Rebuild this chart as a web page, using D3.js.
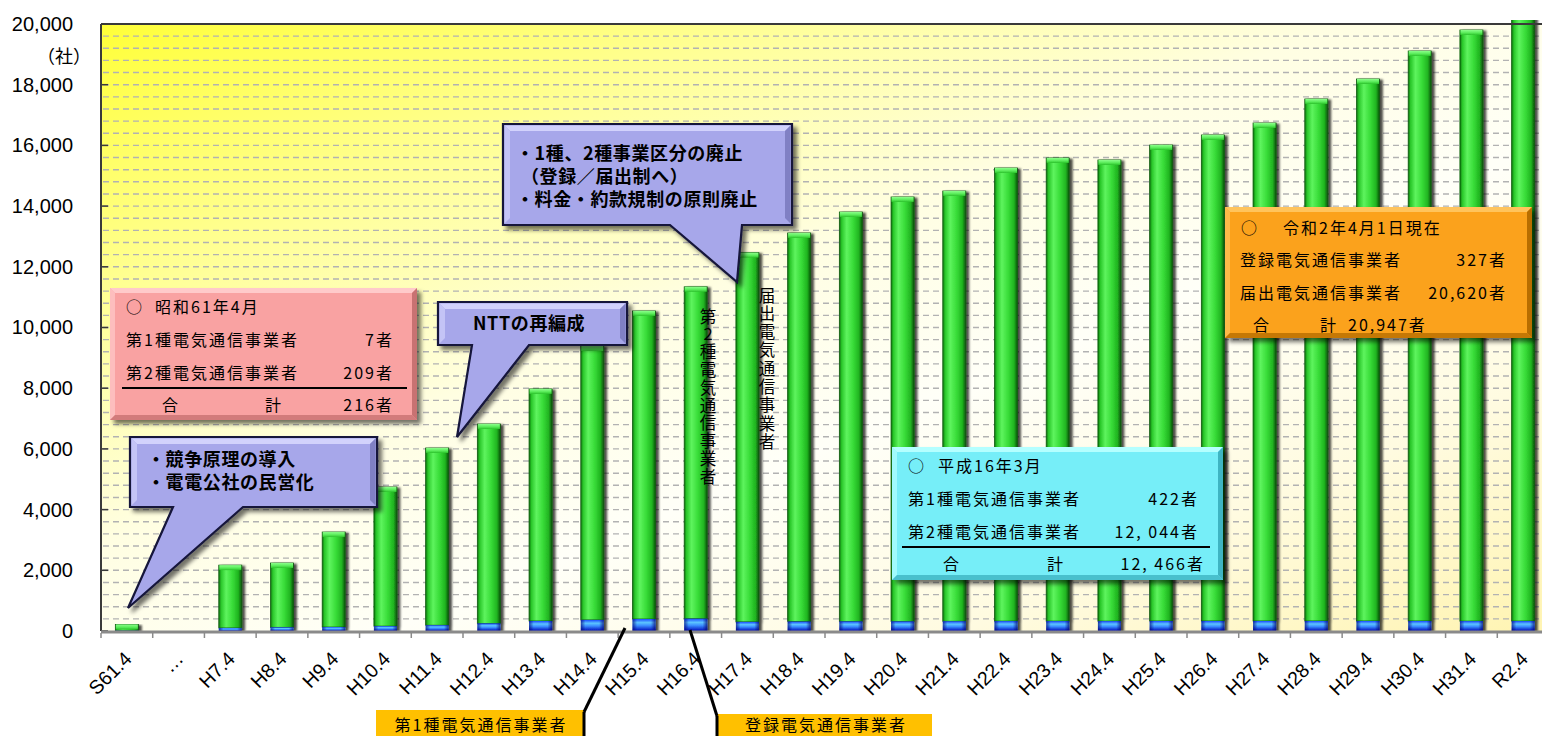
<!DOCTYPE html>
<html><head><meta charset="utf-8">
<script src="https://cdn.jsdelivr.net/npm/d3@7"></script>
<style>
html,body{margin:0;padding:0;background:#fff;}
svg{display:block;}
.vert{writing-mode:vertical-rl;text-orientation:upright;}
</style></head>
<body>
<svg id="chart" width="1542" height="736"></svg>
<script>
// 電気通信事業者数の推移
const categories = ["S61.4","…","H7.4","H8.4","H9.4","H10.4","H11.4","H12.4","H13.4","H14.4","H15.4","H16.4","H17.4","H18.4","H19.4","H20.4","H21.4","H22.4","H23.4","H24.4","H25.4","H26.4","H27.4","H28.4","H29.4","H30.4","H31.4","R2.4"];
// 第1種電気通信事業者（H17.4以降は登録電気通信事業者）
const class1 = [7,null,100,120,130,160,190,250,330,365,395,405,300,310,315,315,320,325,325,325,330,330,330,330,330,330,325,327];
// 第2種電気通信事業者（H17.4以降は届出電気通信事業者）
const class2 = [209,null,2070,2120,3130,4585,5840,6570,7645,9025,10150,10935,12166,12804,13490,13985,14177,14930,15260,15195,15683,16013,16408,17199,17858,18780,19477,20620];
const yTicks = [0,2000,4000,6000,8000,10000,12000,14000,16000,18000,20000];

const JP = "'Noto Sans CJK JP','Noto Sans CJK SC',sans-serif";
const LAT = "'Liberation Sans',Arial,sans-serif";

const svg = d3.select("#chart");
const plot = {left:101, top:24, bottom:631, right:1542};

const x = d3.scaleBand().domain(categories).range([101,1549]).paddingInner(0.555).paddingOuter(0.2775);
const y = d3.scaleLinear().domain([0,20000]).range([plot.bottom, plot.top]);

// ---- defs ----
const defs = svg.append("defs");
function lin(id, x1,y1,x2,y2, stops){
  const g = defs.append("linearGradient").attr("id",id)
    .attr("x1",x1).attr("y1",y1).attr("x2",x2).attr("y2",y2);
  stops.forEach(s=>g.append("stop").attr("offset",s[0]).attr("stop-color",s[1]).attr("stop-opacity", s[2]==null?1:s[2]));
}
lin("bg",0,0,1,1,[[0,"#ffff38"],[0.24,"#ffff9a"],[0.43,"#fffee2"],[0.6,"#fffff8"],[0.8,"#fffbe0"],[1,"#fff4b2"]]);
lin("gGreen",0,0,1,0,[[0,"#0e6e0e"],[0.1,"#29c629"],[0.32,"#5ef45e"],[0.6,"#38dc38"],[0.85,"#20b420"],[1,"#0a520a"]]);
lin("gCap",0,0,0,1,[[0,"#8cff8c"],[0.6,"#55ea55"],[1,"#2cc02c"]]);
lin("gBlue",0,0,0,1,[[0,"#1c4cff"],[0.3,"#5cc4ff"],[0.55,"#3a8cff"],[1,"#0008b8"]]);
lin("gBlueEdge",0,0,1,0,[[0,"#000070",0.65],[0.2,"#000070",0],[0.8,"#000070",0],[1,"#000070",0.7]]);

const f = defs.append("filter").attr("id","barShadow").attr("x","-50%").attr("y","-5%").attr("width","220%").attr("height","115%");
f.append("feDropShadow").attr("dx",3).attr("dy",1).attr("stdDeviation",1.3).attr("flood-color","#000").attr("flood-opacity",0.7);
const f2 = defs.append("filter").attr("id","boxShadow").attr("x","-10%").attr("y","-20%").attr("width","130%").attr("height","150%");
f2.append("feDropShadow").attr("dx",4).attr("dy",4).attr("stdDeviation",2).attr("flood-color","#000").attr("flood-opacity",0.55);

defs.append("clipPath").attr("id","plotClip").append("rect")
  .attr("x",plot.left).attr("y",20).attr("width",plot.right-plot.left).attr("height",plot.bottom-20);

// ---- plot background ----
svg.append("rect").attr("x",plot.left).attr("y",plot.top)
  .attr("width",plot.right-plot.left).attr("height",plot.bottom-plot.top).attr("fill","url(#bg)");

// gridlines every 400
svg.append("g").selectAll("line").data(d3.range(400,20000,400)).join("line")
  .attr("x1",plot.left+2).attr("x2",plot.right)
  .attr("y1",d=>y(d)).attr("y2",d=>y(d))
  .attr("stroke","#b2b2b2").attr("stroke-width",1.4).attr("stroke-dasharray","6,4");

// ---- bars ----
const barData = categories.map((c,i)=>({c, a:class1[i], b:class2[i]})).filter(d=>d.a!=null);
const bw = x.bandwidth();
const bars = svg.append("g").attr("clip-path","url(#plotClip)")
  .selectAll("g").data(barData).join("g").attr("filter","url(#barShadow)");
bars.append("rect")
  .attr("x",d=>x(d.c)).attr("width",bw)
  .attr("y",d=>y(d.a+d.b)).attr("height",d=>y(d.a)-y(d.a+d.b))
  .attr("fill","url(#gGreen)").attr("stroke","#0c5a0c").attr("stroke-width",0.8);
bars.append("rect")
  .attr("x",d=>x(d.c)+0.5).attr("width",bw-1)
  .attr("y",d=>y(d.a+d.b)).attr("height",d=>Math.min(5,y(d.a)-y(d.a+d.b)))
  .attr("fill","url(#gCap)");
bars.append("rect")
  .attr("x",d=>x(d.c)).attr("width",bw)
  .attr("y",d=>y(d.a)).attr("height",d=>y(0)-y(d.a))
  .attr("fill","url(#gBlue)");
bars.append("rect")
  .attr("x",d=>x(d.c)).attr("width",bw)
  .attr("y",d=>y(d.a)).attr("height",d=>y(0)-y(d.a))
  .attr("fill","url(#gBlueEdge)");

// ---- frame & axes ----
svg.append("line").attr("x1",plot.left).attr("x2",plot.right).attr("y1",plot.top).attr("y2",plot.top)
  .attr("stroke","#3a3a3a").attr("stroke-width",2);
svg.append("line").attr("x1",plot.left).attr("x2",plot.left).attr("y1",plot.top).attr("y2",plot.bottom)
  .attr("stroke","#3a3a3a").attr("stroke-width",2);
svg.append("g").selectAll("line").data(yTicks).join("line")
  .attr("x1",plot.left).attr("x2",plot.left+7).attr("y1",d=>y(d)).attr("y2",d=>y(d))
  .attr("stroke","#3a3a3a").attr("stroke-width",1.5);

const yAxis = svg.append("g").attr("transform",`translate(${plot.left},0)`)
  .call(d3.axisLeft(y).tickValues(yTicks).tickSize(0).tickPadding(28).tickFormat(d3.format(",")));
yAxis.select(".domain").remove();
yAxis.selectAll("text").attr("font-family",LAT).attr("font-size",20).attr("fill","#000");

svg.append("text").attr("x",37).attr("y",63).attr("font-family",JP).attr("font-size",18).text("（社）");

// x axis
svg.append("line").attr("x1",plot.left).attr("x2",plot.right).attr("y1",plot.bottom+1).attr("y2",plot.bottom+1)
  .attr("stroke","#8a8a8a").attr("stroke-width",3);
const gap = (x.step()-bw)/2;
const bounds = categories.map(c=>x(c)-gap).concat([x(categories[categories.length-1])+bw+gap]);
svg.append("g").selectAll("line").data(bounds).join("line")
  .attr("x1",d=>d).attr("x2",d=>d).attr("y1",plot.bottom+2).attr("y2",plot.bottom+7)
  .attr("stroke","#8a8a8a").attr("stroke-width",1.5);
svg.append("g").selectAll("text").data(categories).join("text")
  .attr("transform",c=>`translate(${x(c)+bw/2+6},660) rotate(-45)`)
  .attr("text-anchor","end").attr("font-family",LAT).attr("font-size",19.5).attr("fill","#000")
  .text(c=>c);

// ---- bevelled info boxes ----
function bevelBox(bx,by,w,h,fill,light,dark,b){
  const g = svg.append("g");
  g.append("rect").attr("x",bx).attr("y",by).attr("width",w).attr("height",h).attr("fill",fill).attr("filter","url(#boxShadow)");
  const P = pts=>pts.map(p=>p.join(",")).join(" ");
  g.append("polygon").attr("points",P([[bx,by],[bx+w,by],[bx+w-b,by+b],[bx+b,by+b]])).attr("fill",light);
  g.append("polygon").attr("points",P([[bx,by],[bx+b,by+b],[bx+b,by+h-b],[bx,by+h]])).attr("fill",light).attr("opacity",0.7);
  g.append("polygon").attr("points",P([[bx+w,by],[bx+w,by+h],[bx+w-b,by+h-b],[bx+w-b,by+b]])).attr("fill",dark);
  g.append("polygon").attr("points",P([[bx,by+h],[bx+w,by+h],[bx+w-b,by+h-b],[bx+b,by+h-b]])).attr("fill",dark).attr("opacity",0.8);
  return g;
}
function txt(g,tx,ty,s,opt={}){
  return g.append("text").attr("x",tx).attr("y",ty).attr("font-family",JP)
    .attr("font-size",opt.size||16).attr("font-weight",opt.weight||400)
    .attr("letter-spacing",opt.ls==null?2:opt.ls)
    .attr("text-anchor",opt.anchor||"start").attr("fill","#000").text(s);
}

// 昭和61年4月
let g1 = bevelBox(110,288,307,132,"#f9a2a2","#ffcaca","#c87272",5);
txt(g1,126,313,"○"); txt(g1,155,313,"昭和61年4月");
txt(g1,126,346,"第1種電気通信事業者"); txt(g1,394,346,"7者",{anchor:"end"});
txt(g1,126,379,"第2種電気通信事業者"); txt(g1,394,379,"209者",{anchor:"end"});
g1.append("line").attr("x1",122).attr("x2",407).attr("y1",388).attr("y2",388).attr("stroke","#000").attr("stroke-width",2);
txt(g1,162,411,"合"); txt(g1,265,411,"計"); txt(g1,394,411,"216者",{anchor:"end"});

// 平成16年3月
let g2 = bevelBox(892,447,331,133,"#76eef8","#b4ffff","#3fb4c2",5);
txt(g2,908,472,"○"); txt(g2,938,472,"平成16年3月");
txt(g2,908,505,"第1種電気通信事業者"); txt(g2,1199,505,"422者",{anchor:"end"});
txt(g2,908,538,"第2種電気通信事業者"); txt(g2,1199,538,"12, 044者",{anchor:"end"});
g2.append("line").attr("x1",902).attr("x2",1210).attr("y1",547).attr("y2",547).attr("stroke","#000").attr("stroke-width",2);
txt(g2,943,570,"合"); txt(g2,1047,570,"計"); txt(g2,1205,570,"12, 466者",{anchor:"end"});

// 令和2年4月1日現在
let g3 = bevelBox(1225,207,307,131,"#fba21c","#ffc45c","#b86e00",5);
txt(g3,1241,234,"○"); txt(g3,1283,234,"令和2年4月1日現在");
txt(g3,1240,266,"登録電気通信事業者"); txt(g3,1507,266,"327者",{anchor:"end"});
txt(g3,1240,299,"届出電気通信事業者"); txt(g3,1507,299,"20,620者",{anchor:"end"});
txt(g3,1253,331,"合"); txt(g3,1320,331,"計"); txt(g3,1348,331,"20,947者");

// ---- callouts ----
function callout(bx,by,w,h,bL,bR,tip){
  const g = svg.append("g");
  const path = `M${bx},${by}H${bx+w}V${by+h}H${bR}L${tip[0]},${tip[1]}L${bL},${by+h}H${bx}Z`;
  g.append("path").attr("d",path).attr("fill","#a7a7ea").attr("stroke","#14143a").attr("stroke-width",2.2)
    .attr("stroke-linejoin","miter").attr("filter","url(#boxShadow)");
  g.append("polygon").attr("points",`${bx+1.5},${by+1.5} ${bx+w-1.5},${by+1.5} ${bx+w-7},${by+7} ${bx+7},${by+7}`).attr("fill","#d2d2fc");
  g.append("polygon").attr("points",`${bx+1.5},${by+1.5} ${bx+7},${by+7} ${bx+7},${by+h-7} ${bx+1.5},${by+h-1.5}`).attr("fill","#c4c4f6");
  g.append("polygon").attr("points",`${bx+w-1.5},${by+1.5} ${bx+w-1.5},${by+h-1.5} ${bx+w-7},${by+h-7} ${bx+w-7},${by+7}`).attr("fill","#8080c4");
  return g;
}
const bold = {size:18, weight:700, ls:0.6};
let c1 = callout(130,437,247,70,173,243,[128,608]);
txt(c1,147,466,"・競争原理の導入",bold); txt(c1,147,489,"・電電公社の民営化",bold);
let c2 = callout(438,302,189,43,472,529,[457,437]);
txt(c2,473,330,"NTTの再編成",bold);
let c3 = callout(503,124,289,101,670,742,[737,282]);
txt(c3,516,160,"・1種、2種事業区分の廃止",bold);
txt(c3,521,183,"（登録／届出制へ）",bold);
txt(c3,516,206,"・料金・約款規制の原則廃止",bold);

// ---- vertical labels ----
function vtext(cx,top,ls,s){
  svg.append("text").attr("class","vert")
    .attr("x",cx).attr("y",top)
    .attr("font-family",JP).attr("font-size",16.5).attr("letter-spacing",ls).attr("fill","#000").text(s);
}
vtext(708,308,1.3,"第2種電気通信事業者");
vtext(767,287,1.8,"届出電気通信事業者");

// ---- bottom tags ----
function tag(bx,by,w,edgeX,lead,label,cx,base){
  const g = svg.append("g");
  g.append("rect").attr("x",bx).attr("y",by).attr("width",w).attr("height",736-by+2).attr("fill","#ffc000");
  g.append("line").attr("x1",lead[0]).attr("y1",lead[1]).attr("x2",edgeX).attr("y2",by+2).attr("stroke","#000").attr("stroke-width",3);
  g.append("line").attr("x1",edgeX).attr("y1",by+2).attr("x2",edgeX).attr("y2",738).attr("stroke","#000").attr("stroke-width",3);
  txt(g,cx,base,label,{anchor:"middle"});
}
tag(376,710,208,584,[625,628],"第1種電気通信事業者",481,731);
tag(716,714,216,717,[690,630],"登録電気通信事業者",826,731);
</script>
</body></html>
